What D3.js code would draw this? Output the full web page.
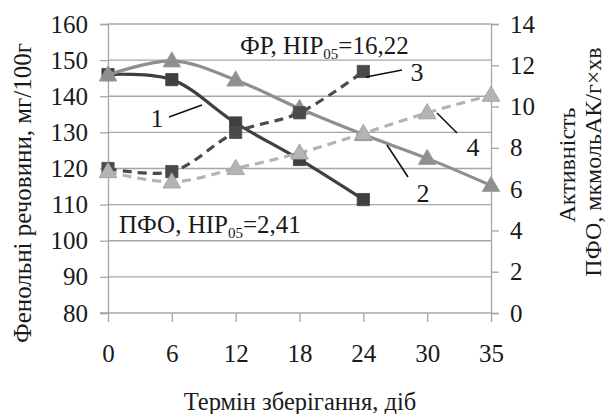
<!DOCTYPE html>
<html>
<head>
<meta charset="utf-8">
<script src="https://cdn.jsdelivr.net/npm/d3@7"></script>
<style>
  body { margin: 0; background: #fff; }
  svg text { font-family: 'Liberation Serif', 'Times New Roman', serif; }
  .grid line { stroke: #a6a6a6; stroke-width: 1.3; }
  .axis path, .axis line { stroke: #a6a6a6; stroke-width: 1.3; }
  .axis text { font-size: 25px; fill: #1a1a1a; }
</style>
</head>
<body>
<main></main>
<script>
const days = ['0', '6', '12', '18', '24', '30', '35'];
const leftTicks = [80, 90, 100, 110, 120, 130, 140, 150, 160];
const rightTicks = [0, 2, 4, 6, 8, 10, 12, 14];

// ФР (left axis)
const fr1 = [146, 144.6, 132.6, 122.5, 111.4, null, null];
const fr2 = [145.9, 149.8, 144.5, 136.6, 129.4, 122.8, 115.3];
// ПФО (right axis)
const pfo3 = [7.0, 6.85, 8.75, 9.7, 11.7, null, null];
const pfo4 = [6.85, 6.35, 7.0, 7.75, 8.7, 9.7, 10.55];

const $main = d3.select('main');
const W = 606, H = 414;
const margin = { top: 24, right: 115, bottom: 101, left: 108 };
const width = W - margin.left - margin.right;
const height = H - margin.top - margin.bottom;

const $svg = $main.append('svg').attr('width', W).attr('height', H);
const $g = $svg.append('g').attr('transform', `translate(${margin.left}, ${margin.top})`);

const scaleX = d3.scalePoint().domain(days).range([0, width]);
const scaleY = d3.scaleLinear().domain([80, 160]).range([height, 0]);
const scaleY2 = d3.scaleLinear().domain([0, 14]).range([height, 0]);

// gridlines
$g.append('g').attr('class', 'grid')
  .selectAll('line')
  .data(leftTicks.slice(1))
  .enter()
  .append('line')
  .attr('x1', 0).attr('x2', width)
  .attr('y1', d => scaleY(d)).attr('y2', d => scaleY(d));

const axisL = d3.axisLeft(scaleY).tickValues(leftTicks).tickSize(8).tickPadding(12);
$g.append('g').attr('class', 'axis').call(axisL).attr('font-family', null).attr('font-size', null);

const axisR = d3.axisRight(scaleY2).tickValues(rightTicks).tickSize(8).tickPadding(11);
$g.append('g').attr('class', 'axis').attr('transform', `translate(${width}, 0)`).call(axisR)
  .attr('font-family', null).attr('font-size', null);

const axisB = d3.axisBottom(scaleX).tickSize(9).tickPadding(22);
const $ax = $g.append('g').attr('class', 'axis').attr('transform', `translate(0, ${height})`).call(axisB)
  .attr('font-family', null).attr('font-size', null);
$ax.select('.domain').attr('d', `M-8,0H${width}`);

const series = [
  { vals: fr1, y: scaleY, color: '#404040', dash: null, marker: 'square' },
  { vals: fr2, y: scaleY, color: '#8f8f8f', dash: null, marker: 'triangle' },
  { vals: pfo3, y: scaleY2, color: '#4a4a4a', dash: '9,6', marker: 'square' },
  { vals: pfo4, y: scaleY2, color: '#b4b4b4', dash: '9,6', marker: 'triangle' }
];

series.forEach(s => {
  const pts = s.vals.map((v, i) => ({ day: days[i], v })).filter(d => d.v !== null);
  const line = d3.line()
    .x(d => scaleX(d.day))
    .y(d => s.y(d.v))
    .curve(d3.curveCatmullRom.alpha(0.5));
  const $s = $g.append('g');
  $s.append('path')
    .datum(pts)
    .attr('d', line)
    .attr('fill', 'none')
    .attr('stroke', s.color)
    .attr('stroke-width', 3.2)
    .attr('stroke-dasharray', s.dash);
  const sym = d3.symbol()
    .type(s.marker === 'square' ? d3.symbolSquare : d3.symbolTriangle)
    .size(s.marker === 'square' ? 150 : 135);
  $s.selectAll('path.m')
    .data(pts)
    .enter()
    .append('path')
    .attr('class', 'm')
    .attr('d', sym)
    .attr('transform', d => `translate(${scaleX(d.day)}, ${s.y(d.v) + (s.marker === 'triangle' ? 1 : 0)})`)
    .attr('fill', s.color)
    .attr('stroke', s.marker === 'triangle' ? '#9a9a9a' : s.color)
    .attr('stroke-width', 0.8);
});

// series labels with leader lines
const labels = [
  { t: '1', x: 157, y: 127, l: [169, 117, 202, 105] },
  { t: '2', x: 423, y: 202, l: [387, 145, 408, 177] },
  { t: '3', x: 417, y: 81, l: [366, 77, 402, 70] },
  { t: '4', x: 473, y: 156, l: [437, 113, 457, 133] }
];
labels.forEach(d => {
  $svg.append('line')
    .attr('x1', d.l[0]).attr('y1', d.l[1]).attr('x2', d.l[2]).attr('y2', d.l[3])
    .attr('stroke', '#111').attr('stroke-width', 1.6);
  $svg.append('text')
    .attr('x', d.x).attr('y', d.y)
    .attr('text-anchor', 'middle')
    .attr('font-size', 26)
    .attr('fill', '#1a1a1a')
    .text(d.t);
});

function hirLabel(x, y, pre, post) {
  const $t = $svg.append('text').attr('x', x).attr('y', y).attr('font-size', 25).attr('fill', '#1a1a1a');
  $t.append('tspan').text(pre);
  $t.append('tspan').attr('font-size', 15).attr('dy', 5).text('05');
  $t.append('tspan').attr('dy', -5).text(post);
}
hirLabel(240, 54, 'ФР, НІР', '=16,22');
$svg.append('rect').attr('x', 117).attr('y', 212).attr('width', 186).attr('height', 26).attr('fill', '#fff');
hirLabel(119, 233, 'ПФО, НІР', '=2,41');

// axis titles
$svg.append('text')
  .attr('transform', 'translate(31, 193) rotate(-90)')
  .attr('text-anchor', 'middle')
  .attr('font-size', 25)
  .attr('fill', '#1a1a1a')
  .text('Фенольні речовини, мг/100г');

$svg.append('text')
  .attr('transform', 'translate(575, 165) rotate(-90)')
  .attr('text-anchor', 'middle')
  .attr('font-size', 24)
  .attr('fill', '#1a1a1a')
  .text('Активність');

$svg.append('text')
  .attr('transform', 'translate(601, 162) rotate(-90)')
  .attr('text-anchor', 'middle')
  .attr('font-size', 24)
  .attr('fill', '#1a1a1a')
  .text('ПФО, мкмольАК/г×хв');

$svg.append('text')
  .attr('x', 300).attr('y', 410)
  .attr('text-anchor', 'middle')
  .attr('font-size', 24.5)
  .attr('fill', '#1a1a1a')
  .text('Термін зберігання, діб');
</script>
</body>
</html>
